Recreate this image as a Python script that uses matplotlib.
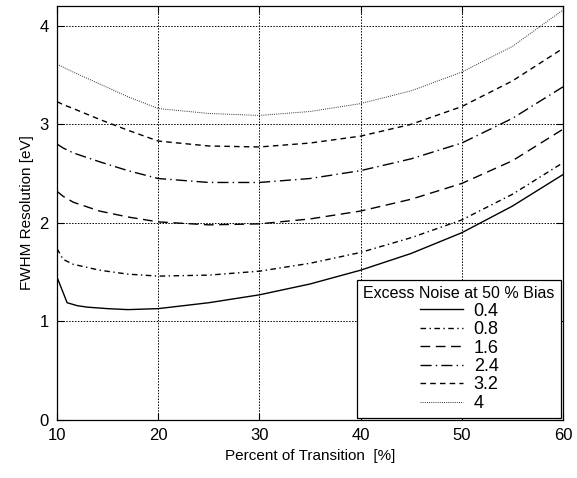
import matplotlib
matplotlib.use("Agg")
import matplotlib.pyplot as plt

plt.rcParams['font.family'] = ['Liberation Sans', 'DejaVu Sans']

x_a = [10, 11, 12, 13, 15, 17, 20, 25, 30, 35, 40, 45, 50, 55, 60]
y_04 = [1.45, 1.19, 1.16, 1.145, 1.13, 1.12, 1.13, 1.19, 1.27, 1.38, 1.52, 1.69, 1.90, 2.17, 2.49]

x_b = [10, 10.6, 11.6, 14.2, 17, 20, 25, 30, 35, 40, 45, 50, 55, 60]
y_08 = [1.74, 1.63, 1.58, 1.52, 1.48, 1.46, 1.47, 1.51, 1.59, 1.70, 1.85, 2.03, 2.29, 2.61]
y_16 = [2.32, 2.27, 2.21, 2.12, 2.06, 2.01, 1.98, 1.99, 2.04, 2.12, 2.24, 2.40, 2.63, 2.95]
y_24 = [2.80, 2.76, 2.71, 2.62, 2.53, 2.45, 2.41, 2.41, 2.45, 2.53, 2.65, 2.81, 3.06, 3.38]
y_32 = [3.23, 3.20, 3.16, 3.05, 2.94, 2.83, 2.78, 2.77, 2.81, 2.88, 3.00, 3.18, 3.44, 3.77]
y_40 = [3.61, 3.58, 3.53, 3.41, 3.28, 3.16, 3.11, 3.09, 3.13, 3.21, 3.34, 3.53, 3.79, 4.16]

labels = ['0.4', '0.8', '1.6', '2.4', '3.2', '4']
x_ticks = [10, 20, 30, 40, 50, 60]
y_ticks = [0, 1, 2, 3, 4]

fig = plt.figure(figsize=(5.77, 4.78), dpi=100)
ax = fig.add_axes([0.0988, 0.1213, 0.8769, 0.8661])

ax.plot(x_a, y_04, color='black', lw=1.0, ls='-', label=labels[0])
ax.plot(x_b, y_08, color='black', lw=1.0, ls=(0, (4, 2.5, 1, 2.5)), label=labels[1])
ax.plot(x_b, y_16, color='black', lw=1.0, ls=(0, (7, 4)), label=labels[2])
ax.plot(x_b, y_24, color='black', lw=1.0, ls=(0, (8, 3, 1, 3)), label=labels[3])
ax.plot(x_b, y_32, color='black', lw=1.0, ls=(0, (4, 3)), label=labels[4])
ax.plot(x_b, y_40, color='#333333', lw=0.7, ls=(0, (1, 1.2)), label=labels[5])

ax.set_xlim(10, 60)
ax.set_ylim(0, 4.2)
ax.set_xticks(x_ticks)
ax.set_yticks(y_ticks)
ax.tick_params(direction='in', length=5, width=0.8, labelsize=12, top=True, right=True, pad=6)
ax.grid(True, color='black', ls=(0, (1.5, 1.5)), lw=0.7)
for s in ax.spines.values():
    s.set_linewidth(0.9)

ax.set_xlabel('Percent of Transition  [%]', fontsize=11)
ax.set_ylabel('FWHM Resolution [eV]', fontsize=11)

leg = ax.legend(loc='lower right', title='Excess Noise at 50 % Bias', fontsize=13,
                title_fontsize=11.5, frameon=True, fancybox=False, framealpha=1,
                edgecolor='black', borderaxespad=0.1, handlelength=2.4,
                labelspacing=0.08, handletextpad=0.6, borderpad=0.35)
leg.get_frame().set_linewidth(0.9)

fig.savefig('out.png', dpi=100)
